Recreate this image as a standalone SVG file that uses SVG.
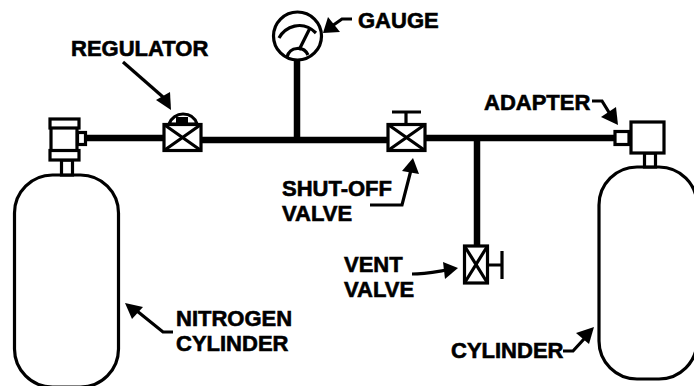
<svg xmlns="http://www.w3.org/2000/svg" width="694" height="386" viewBox="0 0 694 386">
<style>
.o{fill:#fff;stroke:#000;stroke-width:3.2}
.n{fill:none;stroke:#000;stroke-width:3.200}
.p{fill:none;stroke:#000;stroke-width:6.5}
.l{fill:none;stroke:#000;stroke-width:3.200}
.a{fill:#000;stroke:none}
text{font-family:"Liberation Sans",Arial,sans-serif;font-weight:700;font-size:22px;fill:#000;stroke:#000;stroke-width:.6}
</style>
<rect width="694" height="386" fill="#fff"/>
<g id="connectors">
<path class="p" d="M86 138H164"/>
<path class="p" d="M201 140H388"/>
<path class="p" d="M297 60V140"/>
<path class="p" d="M426 138H615"/>
<path class="p" d="M477 138V246"/>
<path class="l" d="M123 62L163 97"/>
<path class="a" d="M171 110L156 100L170 92Z"/>
<path class="l" d="M352 19H342L332 26"/>
<path class="a" d="M323 33L328 17L340 32Z"/>
<path class="l" d="M370 205H402L411 170"/>
<path class="a" d="M413 158L419 174L402 171Z"/>
<path class="l" d="M412 274C423 274 434 272 447 270"/>
<path class="a" d="M458 268L445 279L443 262Z"/>
<path class="l" d="M592 101H602L610 114"/>
<path class="a" d="M618 125L601 117L616 107Z"/>
<path class="l" d="M563 351H573L584 339"/>
<path class="a" d="M594 327L589 344L576 333Z"/>
<path class="l" d="M173 332H163L137 311"/>
<path class="a" d="M125 303L143 307L132 319Z"/>
</g>
<g id="nitrogen-cylinder">
<rect class="o" x="14.500" y="175" width="104" height="212" rx="38" ry="38"/>
<rect class="o" x="61.500" y="160" width="11" height="15"/>
<rect class="o" x="51" y="127" width="26" height="24"/>
<rect class="o" x="50" y="119" width="29" height="9"/>
<rect class="o" x="50" y="150.500" width="29" height="9.500"/>
<rect class="o" x="77.500" y="132.500" width="8" height="12"/>
</g>
<g id="regulator">
<path class="o" d="M169 124C171 118 177 114 183 114C190 114 195 118 197 124Z"/>
<rect class="a" x="176" y="117" width="12" height="6"/>
<rect class="o" x="164" y="124.500" width="37" height="26"/>
<path class="n" d="M164 124.500L201 150.500M201 124.500L164 150.500"/>
</g>
<g id="gauge">
<circle class="o" cx="297.500" cy="36" r="24"/>
<path class="n" d="M279 38C285 27 302 19 316 33"/>
<path class="n" d="M287 57C290 46 304 46 308 55"/>
<path class="n" d="M299 50L310 28"/>
</g>
<g id="shut-off-valve">
<path class="n" d="M392 112H421M406 112V125"/>
<rect class="o" x="388" y="124.500" width="37" height="26"/>
<path class="n" d="M388 124.500L425 150.500M425 124.500L388 150.500"/>
</g>
<g id="vent-valve">
<rect class="o" x="464.500" y="246" width="23" height="37"/>
<path class="n" d="M464.500 246L487.500 283M487.500 246L464.500 283"/>
<path class="n" d="M488 265H502M502 251V279"/>
</g>
<g id="cylinder">
<rect class="o" x="599" y="167" width="98" height="212" rx="38" ry="38"/>
<rect class="o" x="644.500" y="153" width="11" height="14"/>
<rect class="o" x="631" y="122" width="33" height="31"/>
<rect class="o" x="615" y="131.500" width="14" height="13"/>
</g>
<g id="labels">
<text x="71" y="56">REGULATOR</text>
<text x="358" y="28">GAUGE</text>
<text x="484" y="110">ADAPTER</text>
<text x="282" y="196">SHUT-OFF</text>
<text x="282" y="221">VALVE</text>
<text x="344" y="272">VENT</text>
<text x="344" y="297">VALVE</text>
<text x="176" y="326">NITROGEN</text>
<text x="176" y="351">CYLINDER</text>
<text x="451" y="358">CYLINDER</text>
</g>
</svg>
